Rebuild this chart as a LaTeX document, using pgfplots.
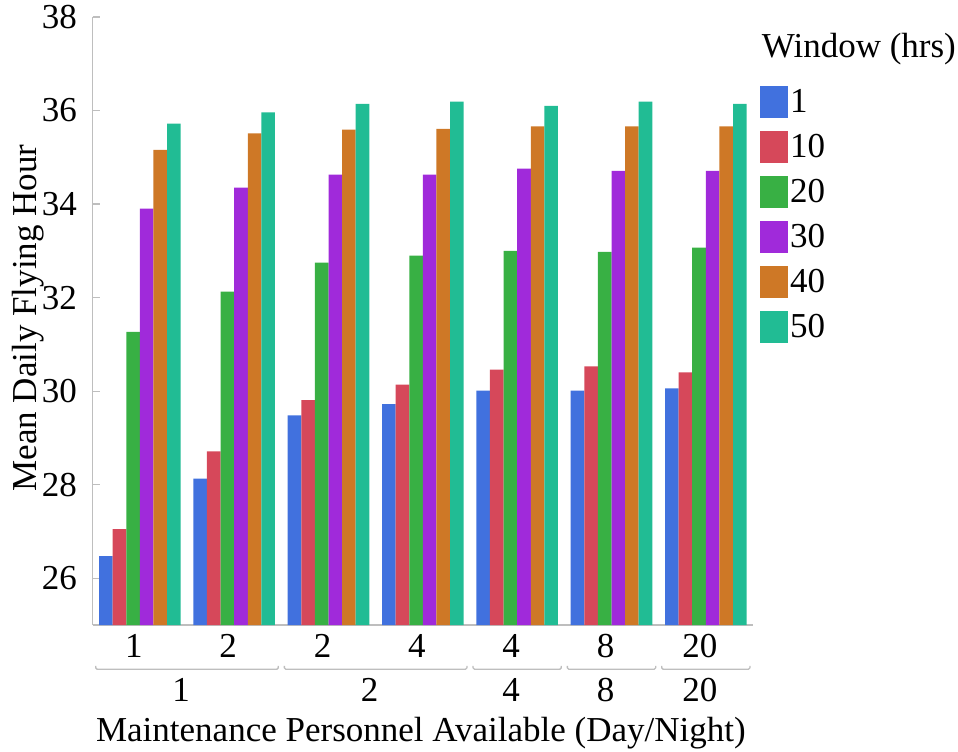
\documentclass[border=0pt]{standalone}
\usepackage{pgfplots}
\pgfplotsset{compat=1.18}
\usepackage{fontspec}
\setmainfont{Liberation Serif}
\newcommand{\fsz}{\fontsize{35bp}{42bp}\selectfont}
\definecolor{cA}{RGB}{65,113,222}
\definecolor{cB}{RGB}{214,72,90}
\definecolor{cC}{RGB}{56,176,68}
\definecolor{cD}{RGB}{160,42,218}
\definecolor{cE}{RGB}{206,120,38}
\definecolor{cF}{RGB}{33,188,148}
\definecolor{axgray}{RGB}{190,190,190}
\newcommand{\brk}[2]{%
  \draw[axgray, line width=1.3bp, rounded corners=1.5bp]
    ([yshift=-40.8bp]axis cs:#1,25) -- ([yshift=-44.3bp]axis cs:#1,25)
    -- ([yshift=-44.3bp]axis cs:#2,25) -- ([yshift=-40.8bp]axis cs:#2,25);}
\newcommand{\blab}[2]{%
  \node[anchor=base, inner sep=0pt, font=\fsz] at ([yshift=-76.7bp, xshift=-6bp]axis cs:#1,25) {#2};}
\begin{document}
\begin{tikzpicture}
\useasboundingbox (-92.7bp,-127bp) rectangle (865.3bp,625bp);
\begin{axis}[
  at={(0,0)}, anchor=south west,
  scale only axis, width=660.3bp, height=608bp,
  xmin=-0.5, xmax=6.5, ymin=25, ymax=38,
  clip mode=individual,
  ybar=0pt, bar width=13.6bp,
  axis x line*=bottom, axis y line*=left,
  axis line style={-, axgray, line width=1.3bp},
  xtick={0,...,6}, xticklabels={1,2,2,4,4,8,20},
  xtick style={draw=none},
  ytick={26,28,...,38},
  ytick style={axgray, line width=1.3bp},
  tick align=inside, major tick length=7.3bp,
  /pgf/number format/assume math mode=true,
  tick label style={font=\fsz},
  xticklabel style={anchor=base, inner sep=0pt, yshift=-32.3bp, xshift=-6bp},
  yticklabel style={anchor=east, inner sep=0pt, xshift=-15.7bp},
  label style={font=\fsz},
  xlabel={Maintenance Personnel Available (Day/Night)},
  xlabel style={at={(axis description cs:0.497,0)}, anchor=base, inner sep=0pt, yshift=-116.7bp},
  ylabel={Mean Daily Flying Hour},
  ylabel style={at={(axis description cs:-0.098,0.505)}, anchor=center, inner sep=0pt},
  legend style={font=\fsz, draw=none, fill=none, at={(axis description cs:1.0106,0.8975)}, anchor=north west,
    inner sep=0pt, row sep=0pt, column sep=0pt, nodes={inner xsep=2bp, inner ysep=0pt}},
  legend cell align=left,
  legend image code/.code={%
    \path[draw=none, fill=none] (0bp,-22.5bp) rectangle (28bp,22.5bp);
    \fill[#1] (0bp,-16bp) rectangle (28bp,16bp);
  },
]
\addplot[draw=none, fill=cA] coordinates {(0,26.47) (1,28.13) (2,29.48) (3,29.72) (4,30.01) (5,30.01) (6,30.06)};
\addplot[draw=none, fill=cB] coordinates {(0,27.05) (1,28.71) (2,29.81) (3,30.14) (4,30.46) (5,30.53) (6,30.40)};
\addplot[draw=none, fill=cC] coordinates {(0,31.27) (1,32.13) (2,32.75) (3,32.90) (4,33.00) (5,32.98) (6,33.07)};
\addplot[draw=none, fill=cD] coordinates {(0,33.90) (1,34.35) (2,34.63) (3,34.63) (4,34.76) (5,34.71) (6,34.71)};
\addplot[draw=none, fill=cE] coordinates {(0,35.16) (1,35.51) (2,35.59) (3,35.61) (4,35.66) (5,35.66) (6,35.66)};
\addplot[draw=none, fill=cF] coordinates {(0,35.72) (1,35.96) (2,36.14) (3,36.19) (4,36.10) (5,36.19) (6,36.14)};
\legend{1,10,20,30,40,50}
\node[anchor=base west, inner sep=0pt, font=\fsz] at (axis description cs:1.0132,0.9337) {Window (hrs)};
\brk{-0.468}{1.468}
\brk{1.532}{3.468}
\brk{3.532}{4.468}
\brk{4.532}{5.468}
\brk{5.532}{6.468}
\blab{0.5}{1}
\blab{2.5}{2}
\blab{4}{4}
\blab{5}{8}
\blab{6}{20}
\end{axis}
\end{tikzpicture}
\end{document}
